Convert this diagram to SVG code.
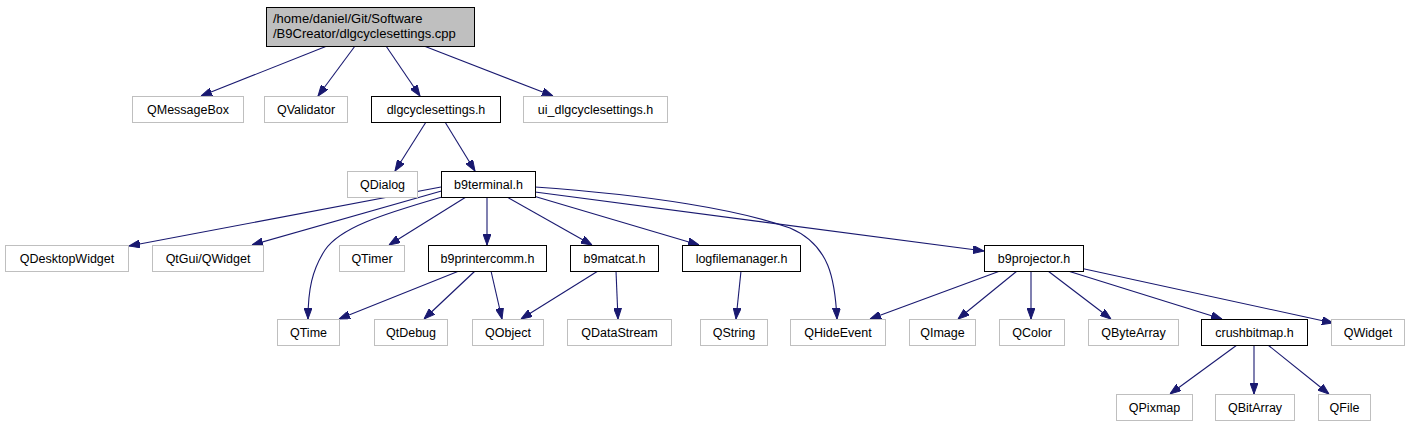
<svg xmlns="http://www.w3.org/2000/svg" width="1409" height="427" viewBox="0 0 1409 427">
<style>
text{font-family:"Liberation Sans",Arial,sans-serif;font-size:12.5px;fill:#000;text-anchor:middle}
.g rect{fill:#fff;stroke:#bfbfbf;stroke-width:1}
.b rect{fill:#fff;stroke:#000;stroke-width:1}
.r rect{fill:#bfbfbf;stroke:#000;stroke-width:1}
.r text{text-anchor:start;font-size:13px}
#edges path{fill:none;stroke:#191970;stroke-width:1.1;marker-end:url(#ah)}
</style>
<defs>
<marker id="ah" viewBox="0 0 11 8" refX="11" refY="4" markerWidth="11" markerHeight="8" markerUnits="userSpaceOnUse" orient="auto">
<path d="M0,0 L11,4 L0,8 z" fill="#191970" stroke="#191970" stroke-width="1"/>
</marker>
</defs>
<rect width="1409" height="427" fill="#fff"/>
<g id="edges">
<path d="M327,46 L201,96"/>
<path d="M355,46 L318,96"/>
<path d="M386,46 L420,96"/>
<path d="M424,46 L553,96"/>
<path d="M426,122 L395,171"/>
<path d="M445,122 L475,171"/>
<path d="M441,187 L129,246"/>
<path d="M445,190 L252,245"/>
<path d="M442,197 C380,215 340,228 325,250 C312,270 308,290 308,319"/>
<path d="M466,197 L389,245"/>
<path d="M487,197 L487,245"/>
<path d="M507,197 L592,245"/>
<path d="M530,195 L699,245"/>
<path d="M535,187 C650,195 740,210 790,228 C830,245 835,280 837,319"/>
<path d="M535,192 L984,251"/>
<path d="M459,271 L339,319"/>
<path d="M475,271 L424,319"/>
<path d="M491,271 L502,319"/>
<path d="M598,271 L521,319"/>
<path d="M616,271 L618,319"/>
<path d="M741,271 L736,319"/>
<path d="M1000,271 L870,319"/>
<path d="M1017,271 L958,319"/>
<path d="M1031,271 L1031,319"/>
<path d="M1048,271 L1111,319"/>
<path d="M1068,271 L1222,319"/>
<path d="M1080,268 L1333,323"/>
<path d="M1237,345 L1170,394"/>
<path d="M1254,345 L1254,394"/>
<path d="M1268,345 L1329,394"/>
</g>
<g id="root" class="r"><rect x="266.5" y="7.5" width="208" height="39"/><text x="273" y="23">/home/daniel/Git/Software</text><text x="273" y="38">/B9Creator/dlgcyclesettings.cpp</text></g>
<g id="QMessageBox" class="g"><rect x="132.5" y="96.5" width="111" height="26"/><text x="188" y="114">QMessageBox</text></g>
<g id="QValidator" class="g"><rect x="264.5" y="96.5" width="83" height="26"/><text x="306" y="114">QValidator</text></g>
<g id="dlgcyclesettings_h" class="b"><rect x="371.5" y="96.5" width="129" height="26"/><text x="436" y="114">dlgcyclesettings.h</text></g>
<g id="ui_dlgcyclesettings_h" class="g"><rect x="523.5" y="96.5" width="144" height="26"/><text x="595.5" y="114">ui_dlgcyclesettings.h</text></g>
<g id="QDialog" class="g"><rect x="347.5" y="171.5" width="70" height="26"/><text x="382.5" y="189">QDialog</text></g>
<g id="b9terminal_h" class="b"><rect x="441.5" y="171.5" width="94" height="26"/><text x="488.5" y="189">b9terminal.h</text></g>
<g id="QDesktopWidget" class="g"><rect x="5.5" y="245.5" width="123" height="26"/><text x="67" y="263">QDesktopWidget</text></g>
<g id="QtGui_QWidget" class="g"><rect x="152.5" y="245.5" width="111" height="26"/><text x="208" y="263">QtGui/QWidget</text></g>
<g id="QTimer" class="g"><rect x="339.5" y="245.5" width="65" height="26"/><text x="372" y="263">QTimer</text></g>
<g id="b9printercomm_h" class="b"><rect x="428.5" y="245.5" width="118" height="26"/><text x="487.5" y="263">b9printercomm.h</text></g>
<g id="b9matcat_h" class="b"><rect x="570.5" y="245.5" width="88" height="26"/><text x="614.5" y="263">b9matcat.h</text></g>
<g id="logfilemanager_h" class="b"><rect x="682.5" y="245.5" width="118" height="26"/><text x="741.5" y="263">logfilemanager.h</text></g>
<g id="b9projector_h" class="b"><rect x="984.5" y="245.5" width="99" height="26"/><text x="1034" y="263">b9projector.h</text></g>
<g id="QTime" class="g"><rect x="277.5" y="319.5" width="62" height="26"/><text x="308.5" y="337">QTime</text></g>
<g id="QtDebug" class="g"><rect x="374.5" y="319.5" width="73" height="26"/><text x="411" y="337">QtDebug</text></g>
<g id="QObject" class="g"><rect x="472.5" y="319.5" width="71" height="26"/><text x="508" y="337">QObject</text></g>
<g id="QDataStream" class="g"><rect x="567.5" y="319.5" width="104" height="26"/><text x="619.5" y="337">QDataStream</text></g>
<g id="QString" class="g"><rect x="700.5" y="319.5" width="67" height="26"/><text x="734" y="337">QString</text></g>
<g id="QHideEvent" class="g"><rect x="790.5" y="319.5" width="95" height="26"/><text x="838" y="337">QHideEvent</text></g>
<g id="QImage" class="g"><rect x="909.5" y="319.5" width="66" height="26"/><text x="942.5" y="337">QImage</text></g>
<g id="QColor" class="g"><rect x="999.5" y="319.5" width="65" height="26"/><text x="1032" y="337">QColor</text></g>
<g id="QByteArray" class="g"><rect x="1088.5" y="319.5" width="90" height="26"/><text x="1133.5" y="337">QByteArray</text></g>
<g id="crushbitmap_h" class="b"><rect x="1201.5" y="319.5" width="106" height="26"/><text x="1254.5" y="337">crushbitmap.h</text></g>
<g id="QWidget" class="g"><rect x="1331.5" y="319.5" width="73" height="26"/><text x="1368" y="337">QWidget</text></g>
<g id="QPixmap" class="g"><rect x="1116.5" y="394.5" width="76" height="26"/><text x="1154.5" y="412">QPixmap</text></g>
<g id="QBitArray" class="g"><rect x="1215.5" y="394.5" width="79" height="26"/><text x="1255" y="412">QBitArray</text></g>
<g id="QFile" class="g"><rect x="1318.5" y="394.5" width="52" height="26"/><text x="1344.5" y="412">QFile</text></g>
</svg>
